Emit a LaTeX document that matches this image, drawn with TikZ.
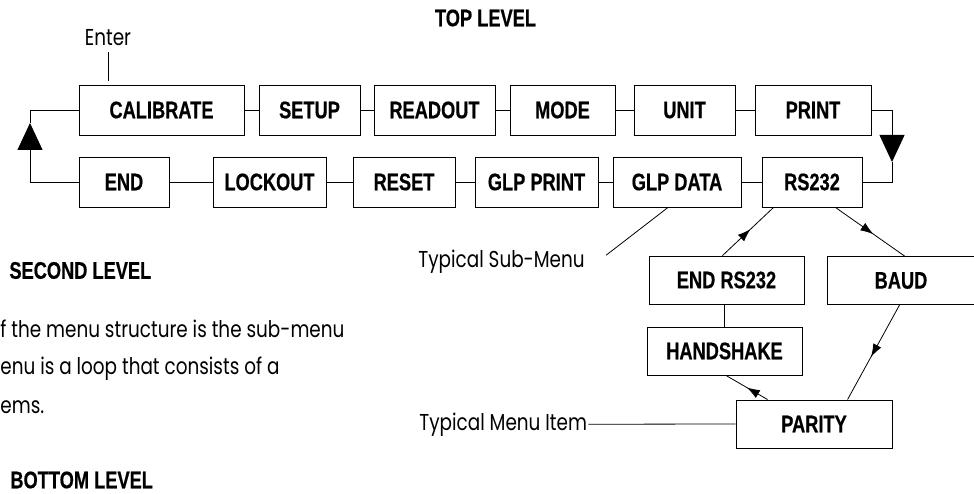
\documentclass[tikz,border=0pt]{standalone}
\usepackage{fontspec}
\newfontfamily\boxfont[FakeStretch=0.76, FakeBold=0.5]{Liberation Sans}
\newfontfamily\notefont[FakeStretch=0.8]{Poppins}
\usetikzlibrary{arrows.meta, decorations.markings, positioning}

\tikzset{
	menubox/.style={draw, line width=0.9pt, minimum height=50pt, inner sep=0pt,
		font=\boxfont\bfseries\fontsize{24pt}{24pt}\selectfont},
	subbox/.style={menubox, minimum height=48pt},
	heading/.style={inner sep=0pt, font=\boxfont\bfseries\fontsize{24pt}{24pt}\selectfont},
	note/.style={inner sep=1pt, font=\notefont\fontsize{23pt}{23pt}\selectfont},
	bigtri/.style={-{Triangle[width=25pt,length=27pt]}},
	midarrow/.style={postaction={decorate}, decoration={markings,
		mark=at position #1 with {\arrow{Latex[length=13pt,width=9pt]}}}},
	midarrow/.default=0.55
}

\begin{document}
\begin{tikzpicture}[x=1pt, y=-1pt, line width=0.8pt]
		  \useasboundingbox (0,0) rectangle (974,494);
		  \clip (0,0) rectangle (974,494);

		  % draws the headings and the text
		    \node [heading] (toplevel) at (485.5,18) {TOP LEVEL};
		    \node [heading, anchor=west] (secondlevel) at (9,270.5) {SECOND LEVEL};
		    \node [heading, anchor=west] (bottomlevel) at (10,480) {BOTTOM LEVEL};
		    \node [note, anchor=base west, inner sep=0pt] (body1) at (0,337) {f the menu structure is the sub-menu};
		    \node [note, anchor=base west, inner sep=0pt] (body2) at (0,374) {enu is a loop that consists of a};
		    \node [note, anchor=base west, inner sep=0pt] (body3) at (0,413) {ems.};

		  % draws the top level loop
		  \foreach \nm/\x/\w/\txt in {calibrate/161.5/165/CALIBRATE, setup/309.5/101/SETUP,
		      readout/434.5/121/READOUT, mode/562.5/105/MODE, unit/684.5/101/UNIT, print/813/116/PRINT}
		    \node [menubox, minimum width=\w pt] (\nm) at (\x,110) {\txt};
		  \foreach \nm/\x/\w/\txt in {end/124/90/END, lockout/269.5/113/LOCKOUT, reset/404/102/RESET,
		      glpprint/536.5/123/GLP PRINT, glpdata/677/128/GLP DATA, rs232/812/100/RS232}
		    \node [menubox, minimum width=\w pt] (\nm) at (\x,182) {\txt};
		  \foreach \a/\b in {calibrate/setup, setup/readout, readout/mode, mode/unit, unit/print,
		      end/lockout, lockout/reset, reset/glpprint, glpprint/glpdata, glpdata/rs232}
		    \draw (\a.east) -- (\b.west);
		  \coordinate (rtip) at (892,162);
		  \coordinate (ltip) at (30,123);
		  \draw [bigtri] (print.east) -| (rtip);
		  \draw (rtip) |- (rs232.east);
		  \draw [bigtri] (end.west) -| (ltip);
		  \draw (ltip) |- (calibrate.west);
		  \node [note] (enter) at (108,38) {Enter};
		  \draw [shorten <=4pt, shorten >=4pt] (enter.south) -- (enter.south |- calibrate.north);

		  % draws the sub-menu
		    \node [subbox, minimum width=155pt] (endrs) at (726.5,280) {END RS232};
		    \node [subbox, minimum width=148pt] (baud) at (901,280.5) {BAUD};
		    \node [subbox, minimum width=155pt] (handshake) at (724.5,351) {HANDSHAKE};
		    \node [subbox, minimum width=156pt] (parity) at (814,424) {PARITY};
		    \draw [midarrow] ([xshift=-4pt]endrs.north) -- ([xshift=12pt]rs232.south west);
		    \draw [midarrow] ([xshift=-27pt]rs232.south east) -- ([xshift=78pt]baud.north west);
		    \draw [midarrow] ([xshift=73pt]baud.south west) -- ([xshift=112pt]parity.north west);
		    \draw [midarrow=0.5] ([xshift=32pt]parity.north west) -- ([xshift=1.5pt]handshake.south);
		    \draw (handshake.north) -- (handshake.north |- endrs.south);

		  % draws the callouts
		    \node [note, anchor=base west] (typsub) at (417,268) {Typical Sub-Menu};
		    \draw ([xshift=20pt, yshift=7pt]typsub.east) -- ([xshift=-9pt]glpdata.south);
		    \node [note, anchor=base west] (typitem) at (418,430) {Typical Menu Item};
		    \draw (typitem.east) -- (parity.west);
	  \end{tikzpicture}
\end{document}
